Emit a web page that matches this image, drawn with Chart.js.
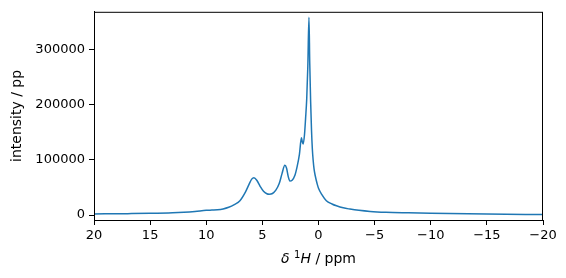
<!DOCTYPE html>
<html>
<head>
<meta charset="utf-8">
<script src="https://cdn.jsdelivr.net/npm/chart.js@4"></script>
<style>
  html, body { margin: 0; padding: 0; background: #fff; }
  #wrap { width: 566px; height: 278px; }
</style>
</head>
<body>
<div id="wrap"><canvas id="spec" width="566" height="278"></canvas></div>
<script>
/* data, ordered high ppm -> low ppm */
const ppm = [20, 17, 15, 13, 12, 11, 10, 9.5, 9, 8.5, 8, 7.5, 7, 6.5, 6.2, 5.95, 5.75, 5.5, 5.2, 4.9,
  4.6, 4.4, 4.1, 3.8, 3.5, 3.25, 3.0, 2.85, 2.7, 2.55, 2.35, 2.1, 1.9, 1.7, 1.52, 1.44, 1.37, 1.25,
  1.15, 1.05, 0.95, 0.85, 0.78, 0.7, 0.62, 0.55, 0.48, 0.4, 0.3, 0.2, 0.1, 0, -0.3, -0.7, -1.2, -1.6,
  -2.2, -2.8, -3.6, -4.6, -6, -8, -10, -15, -20];
const intensity = [2000, 2500, 3000, 4000, 5000, 6500, 8500, 9000, 9500, 11000, 14000, 19000, 26000,
  42000, 55000, 65000, 67500, 63000, 52000, 43000, 38500, 37700, 39000, 45000, 57000, 75000, 90000,
  85000, 70000, 61600, 63000, 72000, 88000, 110000, 140000, 132000, 128600, 145000, 175000, 210000,
  270000, 358000, 275000, 205000, 152000, 120000, 100000, 84000, 72000, 63000, 55000, 48500, 37000,
  26000, 20000, 16700, 13000, 10800, 8500, 6500, 5000, 4000, 3200, 1800, 800];
const xTicks = [20, 15, 10, 5, 0, -5, -10, -15, -20];
const yTicks = [0, 100000, 200000, 300000];

const FONT = 'DejaVu Sans';
const fmtTick = v => (v < 0 ? '\u2212' + Math.abs(v) : String(v));

/* box around the axes + composed x label */
const frame = {
  id: 'frame',
  afterDraw(c) {
    const { ctx, chartArea: a } = c;
    ctx.save();
    ctx.strokeStyle = '#000';
    ctx.lineWidth = 1;
    ctx.strokeRect(a.left + 0.5, a.top + 0.5, a.right - a.left - 1, a.bottom - a.top);
    // x label: δ ¹H / ppm
    const parts = [
      { t: '\u03B4', f: 'italic 14px ' + FONT, dy: 0 },
      { t: ' ', f: '14px ' + FONT, dy: 0 },
      { t: '1', f: '10px ' + FONT, dy: -5 },
      { t: 'H', f: 'italic 14px ' + FONT, dy: 0 },
      { t: ' / ppm', f: '14px ' + FONT, dy: 0 }
    ];
    let w = 0;
    parts.forEach(p => { ctx.font = p.f; p.w = ctx.measureText(p.t).width; w += p.w; });
    let x = (a.left + a.right) / 2 - w / 2;
    const y = 263;
    ctx.fillStyle = '#000';
    ctx.textBaseline = 'alphabetic';
    parts.forEach(p => { ctx.font = p.f; ctx.fillText(p.t, x, y + p.dy); x += p.w; });
    ctx.restore();
  }
};

new Chart(document.getElementById('spec'), {
  type: 'line',
  data: {
    datasets: [{
      data: ppm.map((p, i) => ({ x: p, y: intensity[i] })),
      borderColor: '#1f77b4',
      borderWidth: 1.5,
      pointRadius: 0,
      cubicInterpolationMode: 'monotone',
      fill: false
    }]
  },
  options: {
    responsive: false,
    animation: false,
    layout: { padding: { left: 0, right: 23, top: 9, bottom: 0 } },
    plugins: { legend: { display: false }, tooltip: { enabled: false } },
    scales: {
      x: {
        type: 'linear', reverse: true, min: -20, max: 20,
        afterBuildTicks: s => { s.ticks = xTicks.map(v => ({ value: v })); },
        afterFit: s => { s.height = 58; },
        border: { display: true, color: '#000', width: 1 },
        grid: { drawOnChartArea: false, drawTicks: true, tickLength: 5, tickColor: '#000', tickWidth: 1 },
        ticks: { color: '#000', font: { family: FONT, size: 13 }, padding: 3, maxRotation: 0, callback: fmtTick }
      },
      y: {
        type: 'linear', min: -9000, max: 368000,
        afterBuildTicks: s => { s.ticks = yTicks.map(v => ({ value: v })); },
        afterFit: s => { s.width = 94; },
        border: { display: true, color: '#000', width: 1 },
        grid: { drawOnChartArea: false, drawTicks: true, tickLength: 5, tickColor: '#000', tickWidth: 1 },
        ticks: { color: '#000', font: { family: FONT, size: 13 }, padding: 4, callback: fmtTick },
        title: { display: true, text: 'intensity / pp', color: '#000', font: { family: FONT, size: 14 }, padding: { top: 9, bottom: 0 } }
      }
    }
  },
  plugins: [frame]
});
</script>
</body>
</html>
